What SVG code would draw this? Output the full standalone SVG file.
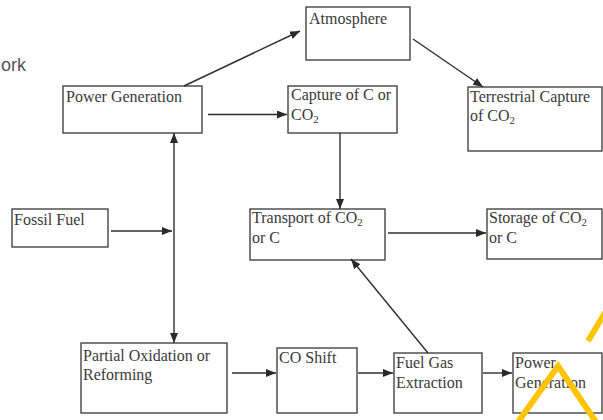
<svg xmlns="http://www.w3.org/2000/svg" width="603" height="420" viewBox="0 0 603 420">
<defs>
<marker id="ah" viewBox="0 0 10 8" refX="10" refY="4" markerWidth="10" markerHeight="8" markerUnits="userSpaceOnUse" orient="auto-start-reverse">
<path d="M0,0 L10,4 L0,8 Z" fill="#2a2a2a"/>
</marker>
</defs>
<style>
.box{fill:#fff;stroke:#444;stroke-width:1.4}
.t{font-family:"Liberation Serif","Times New Roman",serif;font-size:16px;fill:#3a3a3a}
.s{font-size:11px}
.c line{stroke:#2f2f2f;stroke-width:1.4;marker-end:url(#ah)}
</style>
<rect width="603" height="420" fill="#fff"/>
<text x="1" y="71" font-family="Liberation Sans, Arial, sans-serif" font-size="18" fill="#555">ork</text>

<g id="atmosphere"><rect class="box" x="306" y="7" width="104" height="53"/><text class="t" x="309" y="24">Atmosphere</text></g>
<g id="power-generation"><rect class="box" x="63" y="86" width="139" height="47"/><text class="t" x="66" y="102">Power Generation</text></g>
<g id="capture"><rect class="box" x="288" y="86" width="109" height="47"/><text class="t" x="291" y="100">Capture of C or</text><text class="t" x="291" y="120">CO<tspan class="s" dy="3">2</tspan></text></g>
<g id="terrestrial"><rect class="box" x="468" y="87" width="134" height="64"/><text class="t" x="470" y="102">Terrestrial Capture</text><text class="t" x="470" y="121">of CO<tspan class="s" dy="3">2</tspan></text></g>
<g id="fossil-fuel"><rect class="box" x="12" y="209" width="96" height="38"/><text class="t" x="14" y="225">Fossil Fuel</text></g>
<g id="transport"><rect class="box" x="250" y="209" width="135" height="51"/><text class="t" x="252" y="223">Transport of CO<tspan class="s" dy="3">2</tspan></text><text class="t" x="252" y="243">or C</text></g>
<g id="storage"><rect class="box" x="487" y="209" width="115" height="50"/><text class="t" x="489" y="223">Storage of CO<tspan class="s" dy="3">2</tspan></text><text class="t" x="489" y="243">or C</text></g>
<g id="partial-oxidation"><rect class="box" x="81" y="343" width="146" height="70"/><text class="t" x="83" y="361">Partial Oxidation or</text><text class="t" x="83" y="380">Reforming</text></g>
<g id="co-shift"><rect class="box" x="277" y="348" width="80" height="65"/><text class="t" x="279" y="363">CO Shift</text></g>
<g id="fuel-gas-extraction"><rect class="box" x="394" y="353" width="88" height="60"/><text class="t" x="396" y="368">Fuel Gas</text><text class="t" x="396" y="388">Extraction</text></g>
<g id="power-generation-2"><rect class="box" x="513" y="353" width="89" height="60"/><text class="t" x="515" y="368">Power</text><text class="t" x="515" y="388">Generation</text></g>

<g class="c" id="connectors">
<line x1="184" y1="86" x2="300" y2="31"/>
<line x1="413" y1="39" x2="483" y2="87"/>
<line x1="208" y1="114.5" x2="287" y2="114.5"/>
<line x1="340" y1="133" x2="340" y2="209"/>
<line x1="111" y1="231" x2="172" y2="231"/>
<line x1="174" y1="133" x2="174" y2="343" style="marker-start:url(#ah)"/>
<line x1="388" y1="233" x2="486" y2="233"/>
<line x1="428" y1="353" x2="351" y2="259"/>
<line x1="232" y1="373" x2="276" y2="373"/>
<line x1="358" y1="373" x2="393" y2="373"/>
<line x1="483" y1="373" x2="512" y2="373"/>
</g>

<g id="watermark" fill="none" stroke="#FFC400" stroke-width="6" stroke-linecap="butt">
<line x1="606" y1="311" x2="588" y2="341"/>
<polyline points="518,422 558,366 596,422"/>
</g>
</svg>
